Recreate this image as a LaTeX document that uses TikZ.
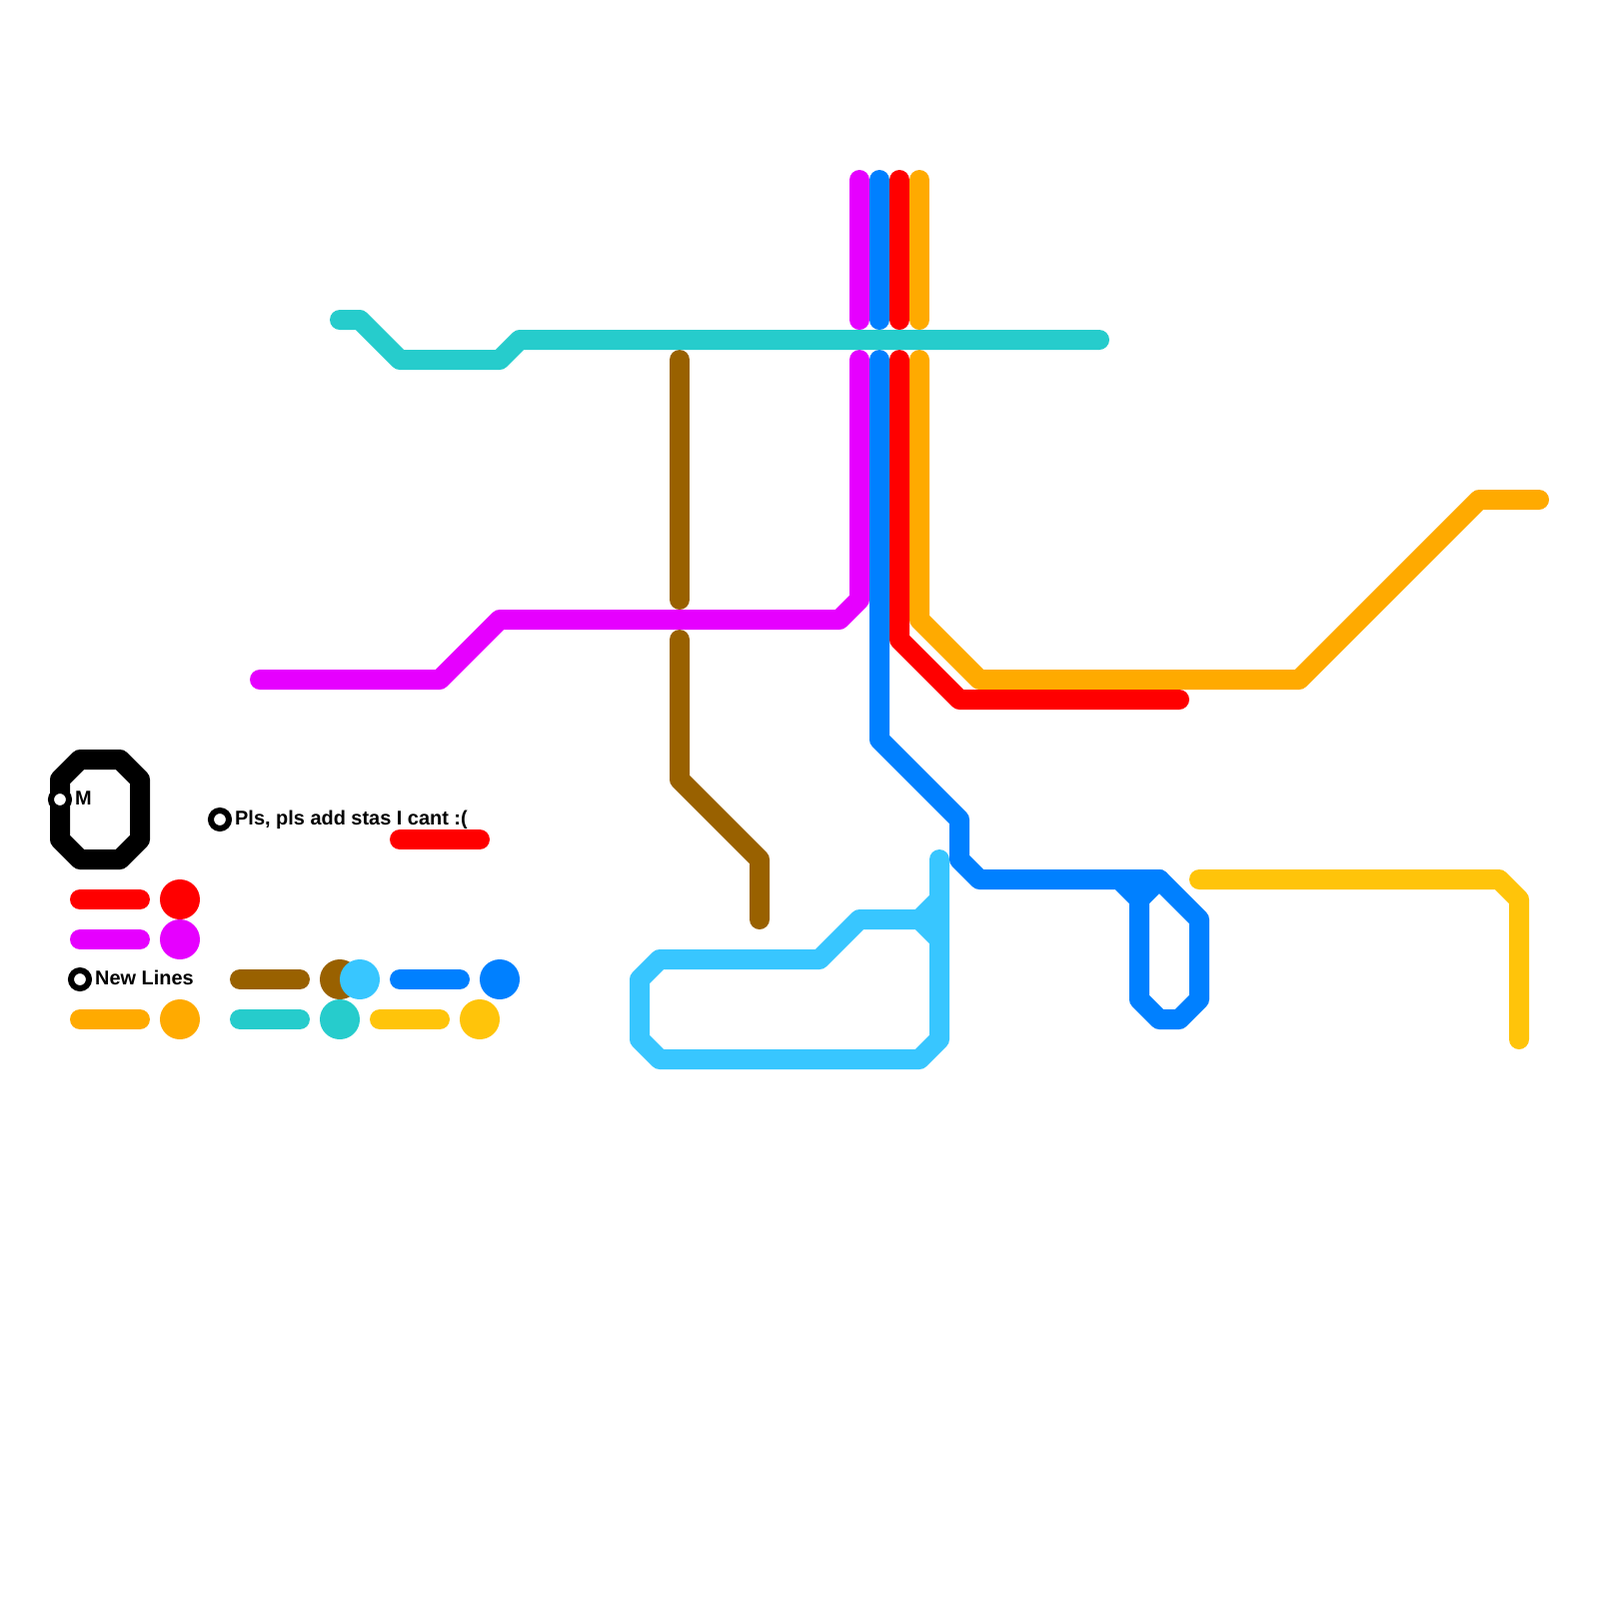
\documentclass[tikz,border=0pt]{standalone}
\usepackage{fontspec}
\setmainfont{Liberation Sans}
\usepackage{xcolor}
\usetikzlibrary{positioning}
\definecolor{lred}{HTML}{FF0000}
\definecolor{lmagenta}{HTML}{E600FF}
\definecolor{lblue}{HTML}{0080FF}
\definecolor{lorange}{HTML}{FFAA00}
\definecolor{lteal}{HTML}{26CCCC}
\definecolor{lbrown}{HTML}{996100}
\definecolor{lsky}{HTML}{38C6FF}
\definecolor{lyellow}{HTML}{FFC40A}
\tikzset{
mline/.style={
line width=2mm,
line cap=round,
line join=round
},
stn/.style={
draw=black,
fill=white,
circle,
inner sep=0pt,
line width=0.6mm,
minimum size=1.8mm
},
stnlabel/.style={
inner sep=0pt,
font=\fontsize{5.67}{6}\selectfont\bfseries
},
disc/.style={
circle,
inner sep=0pt,
minimum size=4mm
}
}

\begin{document}
\begin{tikzpicture}[x=0.1mm,y=-0.1mm,node distance=0.25mm]
\useasboundingbox (0,0) rectangle (1600,1600);

\draw[mline,lsky](940,860)--(940,1040)--(920,1060)--(660,1060)--(640,1040)--(640,980)--(660,960)--(820,960)--(860,920)--(920,920)--(940,900);
\draw[mline,lsky](920,920)--(940,940);

\draw[mline,lbrown](680,360)--(680,600);
\draw[mline,lbrown](680,640)--(680,780)--(760,860)--(760,920);

\draw[mline,lmagenta](260,680)--(440,680)--(500,620)--(840,620)--(860,600)--(860,360);
\draw[mline,lorange](920,360)--(920,620)--(980,680)--(1300,680)--(1480,500)--(1540,500);
\draw[mline,lred](900,360)--(900,640)--(960,700)--(1180,700);
\draw[mline,lblue](880,360)--(880,740)--(960,820)--(960,860)--(980,880)--(1160,880)--(1200,920)--(1200,1000)--(1180,1020)--(1160,1020)--(1140,1000)--(1140,900)--(1120,880);
\draw[mline,lblue](1140,900)--(1160,880);
\draw[mline,lyellow](1200,880)--(1500,880)--(1520,900)--(1520,1040);

\foreach \c/\x in {lmagenta/860,lblue/880,lred/900,lorange/920}
\draw[mline,\c](\x,180)--(\x,320);

\draw[mline,lteal](340,320)--(360,320)--(400,360)--(500,360)--(520,340)--(1100,340);

\draw[mline,black](60,780)--(80,760)--(120,760)--(140,780)--(140,840)--(120,860)--(80,860)--(60,840)--cycle;

% legend
\foreach \c/\x/\y in {lred/80/900,lmagenta/80/940,lorange/80/1020,lbrown/240/980,lteal/240/1020,lblue/400/980,lyellow/380/1020}
\draw[mline,\c](\x,\y)--(\x+60,\y);
\draw[mline,lred](400,840)--(480,840);

\foreach \c/\x/\y in {lred/180/900,lmagenta/180/940,lorange/180/1020,lbrown/340/980,lsky/360/980,lteal/340/1020,lblue/500/980,lyellow/480/1020}
\node[disc,fill=\c](d\c) at (\x,\y){};

\node[stn](m) at (60,800){};
\node[stnlabel,right=of m,yshift=0.1mm](mlabel){M};
\node[stn](pls) at (220,820){};
\node[stnlabel,right=of pls,yshift=0mm](plslabel){Pls, pls add stas I cant :(};
\node[stn](new) at (80,980){};
\node[stnlabel,right=of new,yshift=0.2mm](newlabel){New Lines};
\end{tikzpicture}
\end{document}
